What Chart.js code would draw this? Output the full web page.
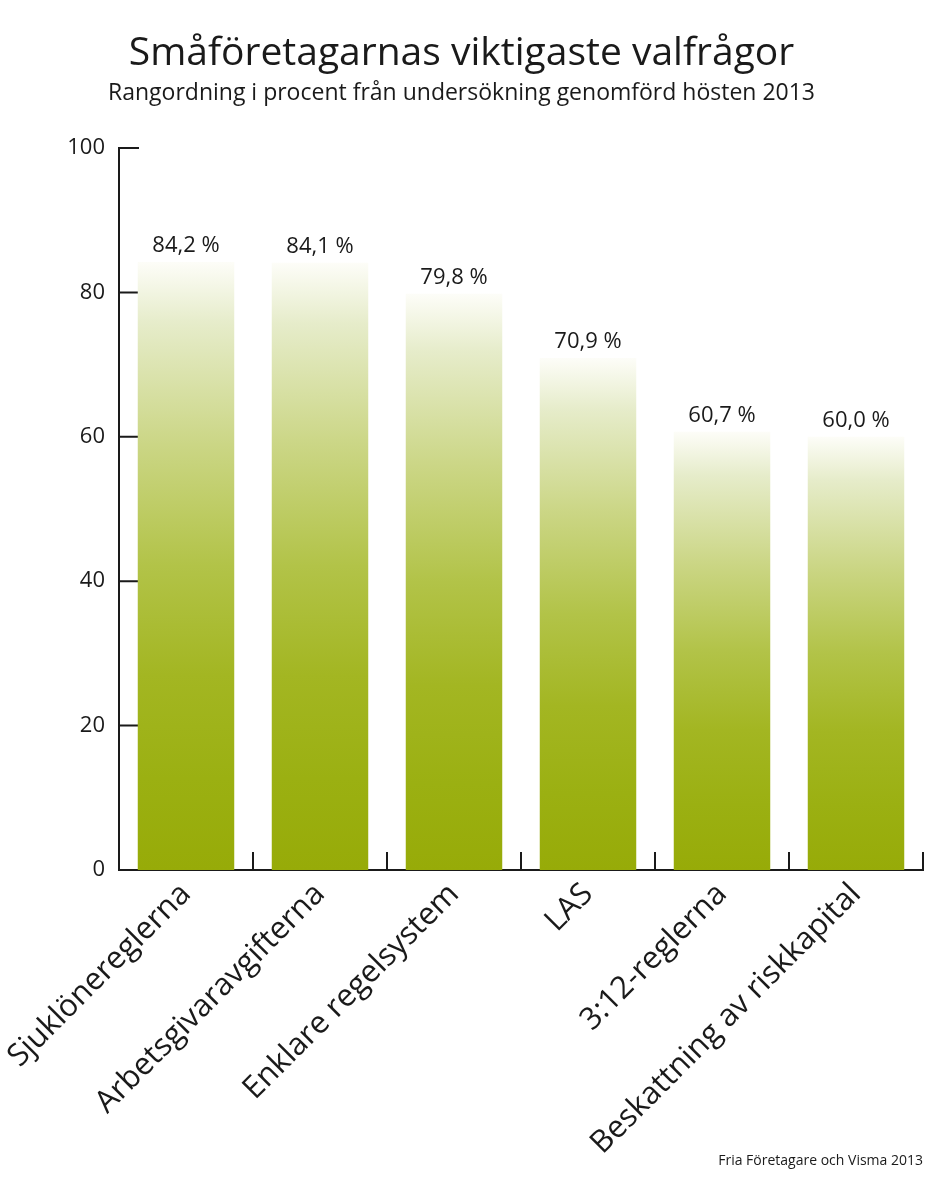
<!DOCTYPE html>
<html>
<head>
<meta charset="utf-8">
<script src="https://cdn.jsdelivr.net/npm/chart.js@4.4.0/dist/chart.umd.min.js"></script>
<style>
  html, body { margin: 0; padding: 0; background: #fff; }
  #wrap { width: 940px; height: 1179px; }
</style>
</head>
<body>
<div id="wrap"><canvas id="myChart"></canvas></div>
<script>
const labels = ['Sjuklönereglerna', 'Arbetsgivaravgifterna', 'Enklare regelsystem', 'LAS', '3:12-reglerna', 'Beskattning av riskkapital'];
const values = [84.2, 84.1, 79.8, 70.9, 60.7, 60.0];
const yTicks = [0, 20, 40, 60, 80, 100];
const title = 'Småföretagarnas viktigaste valfrågor';
const subtitle = 'Rangordning i procent från undersökning genomförd hösten 2013';
const source = 'Fria Företagare och Visma 2013';

const ink = '#1a1a1a';
const font = '"Open Sans", "Noto Sans", sans-serif';

function fmt(v) {
    return v.toFixed(1).replace('.', ',') + ' %';
}

// bar fill: pale at the top of each bar, full olive green lower down
function barFill(c) {
    const chart = c.chart;
    if (!chart.chartArea || c.type !== 'data') return '#98ad0a';
    const y = chart.scales.y;
    const top = y.getPixelForValue(c.raw);
    const bottom = y.getPixelForValue(0);
    const g = chart.ctx.createLinearGradient(0, top, 0, bottom);
    g.addColorStop(0, '#fdfdf8');
    g.addColorStop(0.1, '#e6ecca');
    g.addColorStop(0.3, '#cbd685');
    g.addColorStop(0.5, '#b2c348');
    g.addColorStop(0.68, '#a3b622');
    g.addColorStop(0.85, '#9bb012');
    g.addColorStop(1, '#97ab08');
    return g;
}

// short tick marks that point into the plot area
const innerTicks = {
    id: 'innerTicks',
    beforeDatasetsDraw(chart) {
        const {ctx, scales: {x, y}} = chart;
        ctx.save();
        ctx.strokeStyle = ink;
        ctx.lineWidth = 2;
        ctx.beginPath();
        yTicks.forEach(t => {
            const py = y.getPixelForValue(t);
            ctx.moveTo(x.left, py);
            ctx.lineTo(x.left + 20, py);
        });
        for (let i = 1; i <= labels.length; i++) {
            const px = x.getPixelForValue(i - 0.5);
            ctx.moveTo(px, y.bottom);
            ctx.lineTo(px, y.bottom - 18);
        }
        ctx.stroke();
        ctx.restore();
    }
};

const valueLabels = {
    id: 'valueLabels',
    afterDatasetsDraw(chart) {
        const {ctx} = chart;
        const meta = chart.getDatasetMeta(0);
        ctx.save();
        ctx.fillStyle = ink;
        ctx.font = '22px ' + font;
        ctx.textAlign = 'center';
        ctx.textBaseline = 'alphabetic';
        meta.data.forEach((bar, i) => {
            ctx.fillText(fmt(values[i]), bar.x, bar.y - 10);
        });
        ctx.restore();
    },
    afterDraw(chart) {
        const {ctx} = chart;
        ctx.save();
        ctx.fillStyle = ink;
        ctx.font = '14px ' + font;
        ctx.textAlign = 'right';
        ctx.fillText(source, chart.width - 17, 1165);
        ctx.restore();
    }
};

const data = {
    labels: labels,
    datasets: [{
        data: values,
        backgroundColor: barFill,
        borderWidth: 0,
        categoryPercentage: 1,
        barPercentage: 0.72
    }]
};

const config = {
    type: 'bar',
    data: data,
    options: {
        responsive: true,
        maintainAspectRatio: false,
        animation: false,
        layout: { padding: { left: 0, right: 17, top: 0, bottom: 0 } },
        plugins: {
            legend: { display: false },
            tooltip: { enabled: false },
            title: {
                display: true,
                text: title,
                color: ink,
                font: { family: font, size: 39, weight: 'normal' },
                padding: { top: 30, bottom: 0 }
            },
            subtitle: {
                display: true,
                text: subtitle,
                color: ink,
                font: { family: font, size: 23, weight: 'normal' },
                padding: { top: 3, bottom: 40.6 }
            }
        },
        scales: {
            x: {
                grid: { display: false, drawTicks: false },
                border: { display: true, color: ink, width: 2 },
                ticks: {
                    color: ink,
                    font: { family: font, size: 31 },
                    minRotation: 45,
                    maxRotation: 45,
                    autoSkip: false,
                    padding: 6
                },
                afterFit(s) {
                    s.height = 309;
                    // rotated labels may hang past the left edge; don't let them push the plot
                    s.paddingLeft = 0;
                    s.paddingRight = 0;
                }
            },
            y: {
                min: 0,
                max: 100,
                grid: { display: false, drawTicks: false },
                border: { display: true, color: ink, width: 2 },
                ticks: {
                    stepSize: 20,
                    color: ink,
                    font: { family: font, size: 22 },
                    padding: 14
                },
                afterFit(s) { s.width = 119; }
            }
        }
    },
    plugins: [innerTicks, valueLabels]
};

new Chart(document.getElementById('myChart'), config);
</script>
</body>
</html>
